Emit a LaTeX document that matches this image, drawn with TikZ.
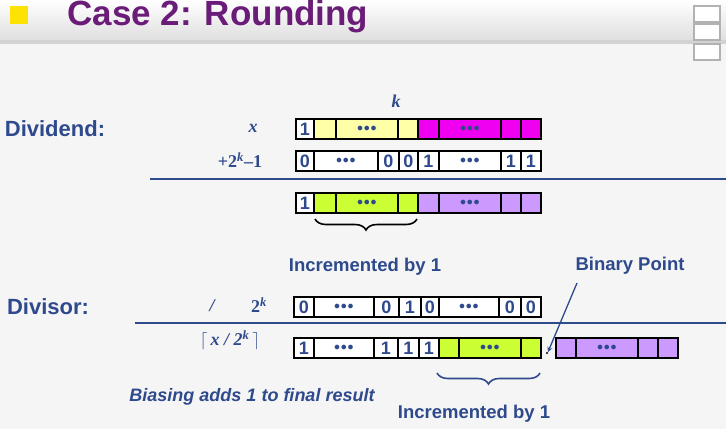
\documentclass[tikz,border=0pt]{standalone}
\usepackage{fontspec}
\setmainfont{Liberation Sans}
\usetikzlibrary{decorations.pathreplacing}
\definecolor{tb}{HTML}{2E4A8C}
\definecolor{ttl}{HTML}{6A1C78}
\definecolor{ylw}{HTML}{FFFFA8}
\definecolor{mag}{HTML}{F000F0}
\definecolor{grn}{HTML}{CCFF33}
\definecolor{lav}{HTML}{CC99FF}
\begin{document}
\begin{tikzpicture}[x=1pt,y=-1pt,
  cell/.style={draw=black,line width=1.8pt},
  lbl/.style={text=tb,font=\bfseries\fontsize{18.5}{18.5}\selectfont},
  dig/.style={text=tb,font=\bfseries\fontsize{18}{18}\selectfont},
  mth/.style={text=tb,font=\fontspec{Liberation Serif}\bfseries\fontsize{18}{18}\selectfont}]
\useasboundingbox (0,0) rectangle (726,429);
\fill[gray!8] (0,0) rectangle (726,429);
\shade[top color=white,bottom color=gray!25] (0,0) rectangle (726,40);
\fill[gray!35] (0,40) rectangle (726,44);
\fill[yellow!85!orange] (10,6) rectangle (28,24);
\node[text=ttl,font=\bfseries\fontsize{35}{35}\selectfont,anchor=west] (title) at (64,17) {Case 2: Rounding};
\foreach \yy in {6,24,44}{\draw[gray!60,line width=1.5pt,fill=white] (694,\yy) rectangle (720,\yy+16);}
\newcommand{\dd}{\fontsize{12}{12}\selectfont$\bullet\!\bullet\!\bullet$}
\newcommand{\rowcells}[2]{%
  \foreach \xa/\xb/\f/\t in {#2}{%
    \node[cell,fill=\f,minimum width={\xb-\xa},minimum height=20,inner sep=0,anchor=north west,dig] at (\xa,#1) {\t};}}
\rowcells{118}{295/313/white/1,313/335/ylw/,335/397/ylw/\dd,397/417/ylw/,417/438/mag/,438/500/mag/\dd,500/520/mag/,520/540/mag/}
\rowcells{150}{295/313/white/0,313/377/white/\dd,377/398/white/0,398/417/white/0,417/438/white/1,438/500/white/\dd,500/520/white/1,520/540/white/1}
\rowcells{192}{295/313/white/1,313/335/grn/,335/397/grn/\dd,397/417/grn/,417/438/lav/,438/500/lav/\dd,500/520/lav/,520/540/lav/}
\rowcells{296}{293/313/white/0,313/373/white/\dd,373/398/white/0,398/420/white/1,420/438/white/0,438/498/white/\dd,498/520/white/0,520/540/white/0}
\rowcells{337}{293/313/white/1,313/373/white/\dd,373/397/white/1,397/418/white/1,418/438/white/1,438/458/grn/,458/520/grn/\dd,520/540/grn/,555/575/lav/,575/637/lav/\dd,637/657/lav/,657/677/lav/}
\node[circle,fill=black,inner sep=0.8pt] (bp) at (547,353) {};
\draw[tb,line width=1.3pt] (150,179) -- (726,179);
\draw[tb,line width=1.3pt] (135,323) -- (726,323);
\draw[black,line width=1.6pt,decorate,decoration={brace,mirror,amplitude=11pt}] (315,219) -- (417,219);
\draw[tb,line width=1.6pt,decorate,decoration={brace,mirror,amplitude=11pt}] (437,373) -- (540,373);
\node[lbl,font=\bfseries\fontsize{22}{22}\selectfont] (dd) at (55,129) {Dividend:};
\node[lbl,font=\bfseries\fontsize{22}{22}\selectfont] (dv) at (48,307) {Divisor:};
\node[mth] (x) at (253,128) {\itshape x};
\node[mth] (k) at (396,101) {\itshape k};
\node[mth] (p) at (240,160) {+2\textsuperscript{\itshape k}–1};
\node[mth] (sl) at (212,306) {\itshape /};
\node[mth] (tk) at (259,305) {2\textsuperscript{\itshape k}};
\node[mth] (cl) at (230,340) {$\lceil$\,\itshape x / 2\textsuperscript{\itshape k}\,$\rceil$};
\node[lbl] (inc1) at (365,267) {Incremented by 1};
\node[lbl] (bpt) at (630,266) {Binary Point};
\node[lbl,font=\bfseries\itshape\fontsize{18}{18}\selectfont] (bias) at (252,397) {Biasing adds 1 to final result};
\node[lbl] (inc2) at (474,414) {Incremented by 1};
\coordinate (as) at (577,283);
\draw[tb,line width=1.3pt,-stealth] (as) -- (bp.north east);
\end{tikzpicture}
\end{document}
